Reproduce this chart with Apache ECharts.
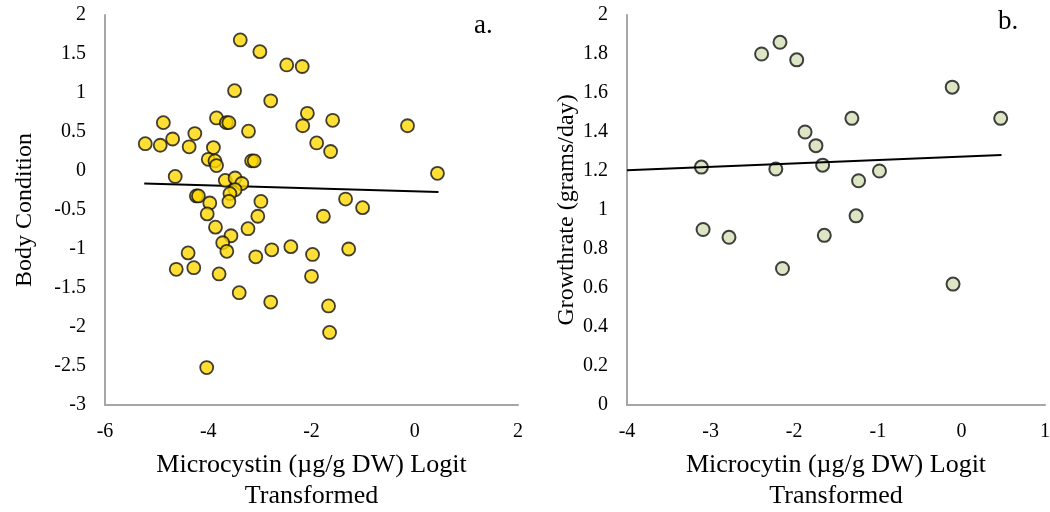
<!DOCTYPE html>
<html><head><meta charset="utf-8">
<script src="https://cdn.jsdelivr.net/npm/echarts@6/dist/echarts.min.js"></script>
<style>html,body{margin:0;padding:0;background:#fff}#c{width:1050px;height:512px}</style>
</head><body><div id="c"></div>
<script>
// Panel a: Body Condition vs Microcystin (logit)
const aX = [-3.38,-3.0,-2.48,-2.18,-3.49,-2.79,-2.08,-2.17,-1.59,-4.87,-3.84,-3.65,-3.60,-4.26,-4.69,-3.22,-5.22,-4.93,-4.37,-3.90,-1.90,-1.63,-4.0,-3.87,-3.84,-3.16,-3.11,-4.64,-3.67,-3.48,-3.35,-3.48,-3.58,-4.23,-4.19,-3.97,-3.60,-2.98,-0.14,0.44,-1.34,-1.01,-4.02,-3.04,-1.77,-3.86,-3.23,-3.56,-3.72,-3.64,-4.39,-2.77,-2.40,-3.08,-1.98,-4.62,-4.28,-3.79,-2.0,-3.40,-2.79,-1.67,-1.65,-4.03,-1.28];
const aY = [1.68,1.53,1.36,1.34,1.03,0.90,0.74,0.58,0.65,0.62,0.68,0.62,0.62,0.48,0.41,0.51,0.35,0.33,0.31,0.30,0.36,0.25,0.15,0.13,0.07,0.13,0.13,-0.07,-0.12,-0.09,-0.16,-0.24,-0.29,-0.32,-0.32,-0.41,-0.39,-0.39,0.58,-0.03,-0.36,-0.47,-0.55,-0.58,-0.58,-0.72,-0.74,-0.83,-0.92,-1.03,-1.05,-1.01,-0.97,-1.10,-1.07,-1.26,-1.24,-1.32,-1.35,-1.56,-1.68,-1.73,-2.07,-2.52,-1.0];
const aTrendX = [-5.24, 0.46];
const aTrendY = [-0.16, -0.27];

// Panel b: Growthrate vs Microcytin (logit)
const bX = [-2.39,-2.17,-1.97,-1.87,-1.74,-3.11,-2.22,-1.66,-3.09,-2.78,-2.14,-1.64,-1.31,-0.11,0.47,-0.98,-1.23,-1.26,-0.10];
const bY = [1.80,1.86,1.77,1.40,1.33,1.22,1.21,1.23,0.90,0.86,0.70,0.87,1.47,1.63,1.47,1.20,1.15,0.97,0.62];
const bTrendX = [-4.0, 0.48];
const bTrendY = [1.204, 1.282];

const pairs = (xs, ys) => xs.map((x, i) => [x, ys[i]]);
const font = 'Liberation Serif';
const axisLine = {show: true, onZero: false, lineStyle: {color: '#a6a6a6', width: 2}};
const tickLbl = {color: '#000', fontFamily: font, fontSize: 20};
const xNameStyle = {color: '#000', fontFamily: font, fontSize: 26, lineHeight: 31};
const yNameStyle = {color: '#000', fontFamily: font, fontSize: 24};

const chart = echarts.init(document.getElementById('c'));
chart.setOption({
  animation: false,
  grid: [
    {left: 105, right: 532, top: 15, bottom: 107, outerBoundsMode: 'none', containLabel: false},
    {left: 627, right: 5, top: 15, bottom: 107, outerBoundsMode: 'none', containLabel: false}
  ],
  xAxis: [
    {gridIndex: 0, type: 'value', min: -6, max: 2, interval: 2, axisLine, axisTick: {show: false}, splitLine: {show: false},
     axisLabel: Object.assign({margin: 17}, tickLbl),
     name: 'Microcystin (µg/g DW) Logit\nTransformed', nameLocation: 'middle', nameGap: 45, nameTextStyle: xNameStyle},
    {gridIndex: 1, type: 'value', min: -4, max: 1, interval: 1, axisLine, axisTick: {show: false}, splitLine: {show: false},
     axisLabel: Object.assign({margin: 17, showMaxLabel: true}, tickLbl),
     name: 'Microcytin (µg/g DW) Logit\nTransformed', nameLocation: 'middle', nameGap: 45, nameTextStyle: xNameStyle}
  ],
  yAxis: [
    {gridIndex: 0, type: 'value', min: -3, max: 2, interval: 0.5, axisLine, axisTick: {show: false}, splitLine: {show: false},
     axisLabel: Object.assign({margin: 19, formatter: v => String(v)}, tickLbl),
     name: 'Body Condition', nameLocation: 'middle', nameGap: 68, nameTextStyle: yNameStyle},
    {gridIndex: 1, type: 'value', min: 0, max: 2, interval: 0.2, axisLine, axisTick: {show: false}, splitLine: {show: false},
     axisLabel: Object.assign({margin: 19, formatter: v => String(Math.round(v * 10) / 10)}, tickLbl),
     name: 'Growthrate (grams/day)', nameLocation: 'middle', nameGap: 45, nameTextStyle: yNameStyle}
  ],
  series: [
    {type: 'scatter', xAxisIndex: 0, yAxisIndex: 0, data: pairs(aX, aY), symbolSize: 13,
     itemStyle: {color: '#FFD700', borderColor: '#111', borderWidth: 1.8}, z: 3},
    {type: 'line', xAxisIndex: 0, yAxisIndex: 0, data: pairs(aTrendX, aTrendY), symbol: 'none',
     lineStyle: {color: '#000', width: 2}, z: 2},
    {type: 'scatter', xAxisIndex: 1, yAxisIndex: 1, data: pairs(bX, bY), symbolSize: 13,
     itemStyle: {color: '#D3DFB5', borderColor: '#111', borderWidth: 2}, z: 3},
    {type: 'line', xAxisIndex: 1, yAxisIndex: 1, data: pairs(bTrendX, bTrendY), symbol: 'none',
     lineStyle: {color: '#000', width: 2}, z: 4}
  ],
  graphic: [
    {type: 'text', left: 474, top: 12, style: {text: 'a.', font: '27px "Liberation Serif"', fill: '#000'}},
    {type: 'text', left: 998, top: 8, style: {text: 'b.', font: '27px "Liberation Serif"', fill: '#000'}}
  ]
});
</script></body></html>
